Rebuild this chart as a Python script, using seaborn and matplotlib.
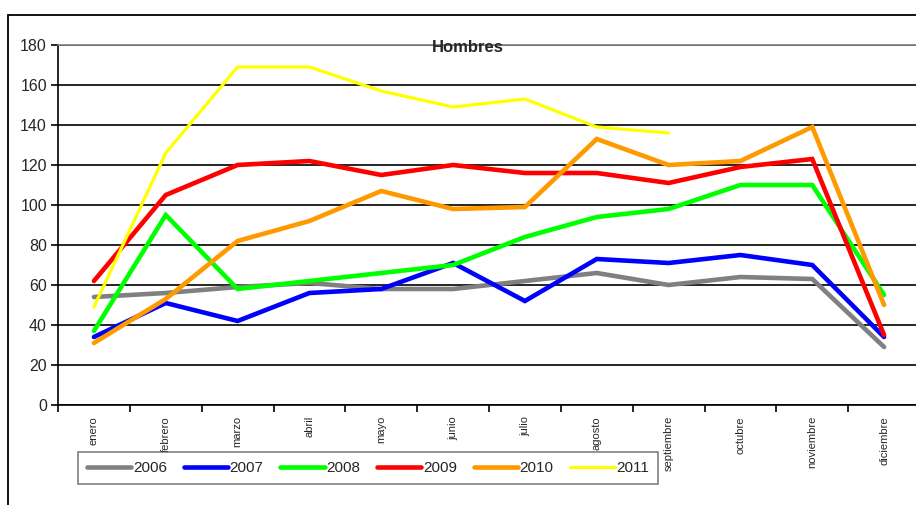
import matplotlib
matplotlib.use("Agg")
from matplotlib import pyplot as plt
from matplotlib.patches import Rectangle
from matplotlib.ticker import FixedLocator
import numpy as np
import seaborn as sns

months = ["enero", "febrero", "marzo", "abril", "mayo", "junio", "julio",
          "agosto", "septiembre", "octubre", "noviembre", "diciembre"]
years = ["2006", "2007", "2008", "2009", "2010", "2011"]

v2006 = [54, 56, 59, 61, 58, 58, 62, 66, 60, 64, 63, 29]
v2007 = [34, 51, 42, 56, 58, 71, 52, 73, 71, 75, 70, 34]
v2008 = [37, 95, 58, 62, 66, 70, 84, 94, 98, 110, 110, 55]
v2009 = [62, 105, 120, 122, 115, 120, 116, 116, 111, 119, 123, 35]
v2010 = [31, 53, 82, 92, 107, 98, 99, 133, 120, 122, 139, 50]
v2011 = [49, 126, 169, 169, 157, 149, 153, 139, 136, np.nan, np.nan, np.nan]

series = [v2006, v2007, v2008, v2009, v2010, v2011]
colors = ["#808080", "#0000ff", "#00ff00", "#ff0000", "#ff9900", "#ffff00"]
widths = [3.3, 3.3, 3.3, 3.3, 3.3, 2.3]

sns.set_style("white")
plt.rcParams["font.family"] = ["Liberation Sans", "DejaVu Sans"]

fig = plt.figure(figsize=(9.16, 5.05), dpi=100)
ax = fig.add_axes([58 / 916, 1 - 405 / 505, 862 / 916, 360 / 505])

x = np.arange(len(months))
for year, vals, col, lw in zip(years, series, colors, widths):
    sns.lineplot(x=x, y=vals, color=col, linewidth=lw, label=year, ax=ax,
                 solid_joinstyle="miter")

ax.set_xlim(-0.5, 11.5)
ax.set_ylim(0, 180)
ax.set_yticks(range(0, 181, 20))
ax.set_xticks(x)
ax.set_xticklabels(months, rotation=90, fontsize=8)
ax.xaxis.set_minor_locator(FixedLocator(np.arange(-0.5, 12, 1)))
ax.tick_params(axis="x", which="major", length=0, pad=8)
ax.tick_params(axis="x", which="minor", length=5, width=1.2, color="black",
               direction="out", bottom=True)
ax.tick_params(axis="y", length=5, width=1.2, color="black", direction="out",
               left=True, labelsize=11.5, pad=3)
ax.set_axisbelow(True)
ax.grid(axis="y", color="black", linewidth=1.2)
ax.grid(axis="x", visible=False)
for side in ["left", "bottom"]:
    ax.spines[side].set_color("black")
    ax.spines[side].set_linewidth(1.2)
ax.spines["top"].set_color("#808080")
ax.spines["top"].set_linewidth(1.2)
ax.spines["right"].set_visible(False)
ax.set_xlabel("")
ax.set_ylabel("")

fig.text(468 / 916, 1 - 48 / 505, "Hombres", fontsize=12, fontweight="bold",
         ha="center", va="center")

handles, labels = ax.get_legend_handles_labels()
ax.get_legend().remove()
leg = fig.legend(handles, labels, loc="upper left",
                 bbox_to_anchor=(78 / 916, 1 - 452 / 505), ncol=6,
                 fontsize=11, frameon=True, fancybox=False, edgecolor="#606060",
                 handlelength=2.9, handletextpad=0.1, columnspacing=1.1,
                 borderpad=0.6, borderaxespad=0)
leg.get_frame().set_linewidth(1.2)
for line in leg.get_lines():
    line.set_solid_capstyle("round")

fig.add_artist(Rectangle((8 / 916, -0.1), 1.2, 1.1 - 15 / 505, fill=False,
                         edgecolor="black", linewidth=1.3,
                         transform=fig.transFigure))

fig.savefig("out.png", dpi=100)
plt.close(fig)
